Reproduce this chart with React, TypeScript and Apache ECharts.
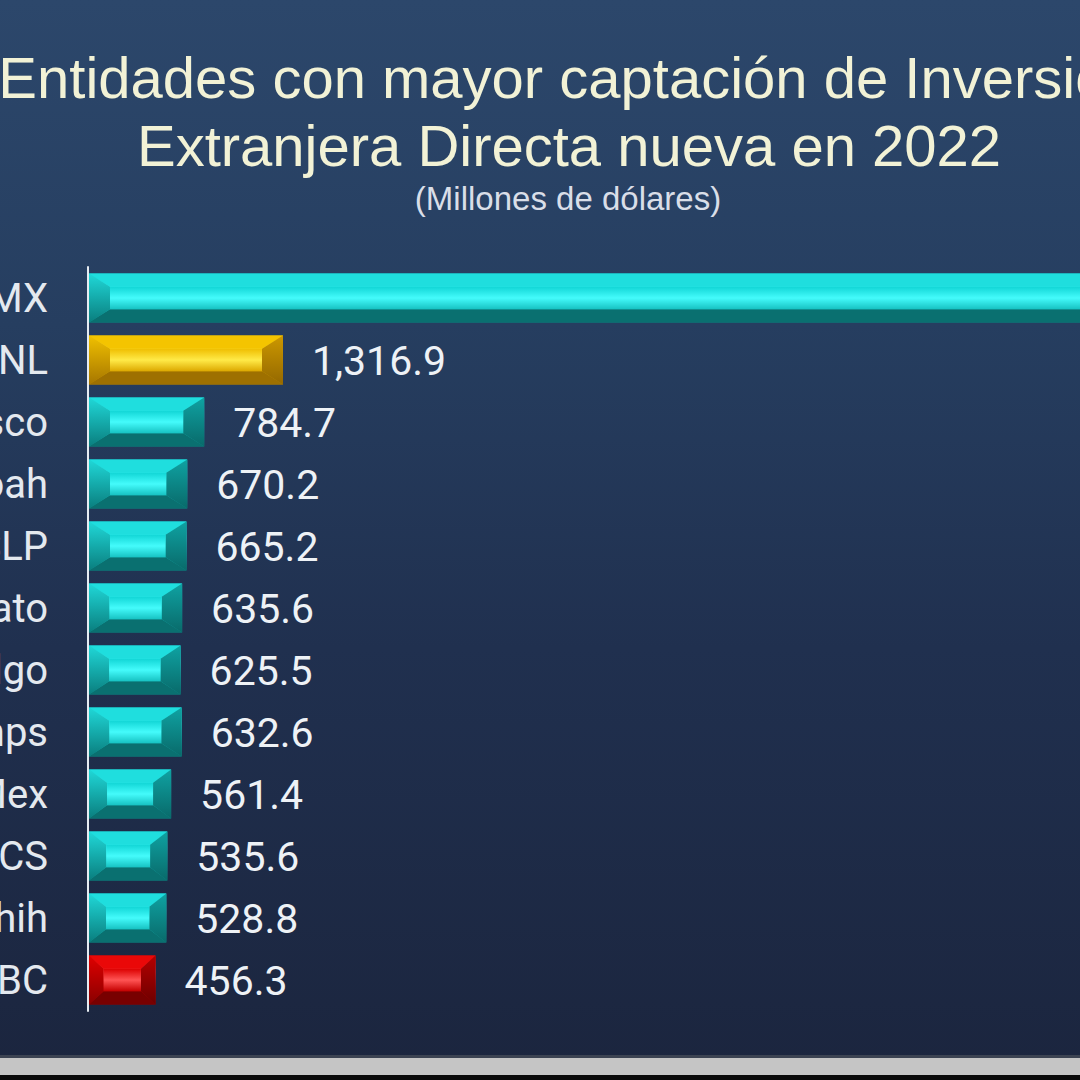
import React, { useEffect, useRef } from "react";
import * as echarts from "echarts";

// ---------- data ----------
const categories = ["CDMX", "NL", "Jalisco", "Coah", "SLP", "Guanajuato", "Hidalgo", "Tamps", "EdoMex", "BCS", "Chih", "BC"];
const values = [7500, 1316.9, 784.7, 670.2, 665.2, 635.6, 625.5, 632.6, 561.4, 535.6, 528.8, 456.3];
const titleLines = ["Entidades con mayor captación de Inversión", "Extranjera Directa nueva en 2022"];
const subtitle = "(Millones de dólares)";

// ---------- styles ----------
const highlight: Record<string, string> = { NL: "gold", BC: "red" };
const palettes: Record<string, any> = {
  cyan: {
    top: "#1fdede",
    face: ["#12d6d6", "#44fbfb", "#17c2c2", "#0c8686"],
    bottom: "#0a7070",
    left: ["#20d8d8", "#0a7e7e"],
    right: ["#0fa2a2", "#096a6a"],
  },
  gold: {
    top: "#f4c400",
    face: ["#efbe00", "#ffea48", "#dca800", "#b48200"],
    bottom: "#9e7000",
    left: ["#f0c000", "#a67600"],
    right: ["#cc9800", "#946800"],
  },
  red: {
    top: "#ea0808",
    face: ["#dc0000", "#ff5454", "#c40000", "#920000"],
    bottom: "#780000",
    left: ["#e00000", "#880000"],
    right: ["#b40000", "#6c0000"],
  },
};

const fmt = (v: number) =>
  v.toLocaleString("en-US", { minimumFractionDigits: 1, maximumFractionDigits: 1 });

const vGrad = (stops: string[]) =>
  new echarts.graphic.LinearGradient(
    0, 0, 0, 1,
    stops.map((c, i) => ({ offset: i / (stops.length - 1), color: c }))
  );

const WIDTH = 1080;

export default function App() {
  const ref = useRef<HTMLDivElement>(null);

  useEffect(() => {
    document.body.style.margin = "0";
    if (!ref.current) return;
    const chart = echarts.init(ref.current, undefined, { renderer: "svg" });

    const renderItem = (params: any, api: any) => {
      const idx = api.value(1);
      const v = api.value(0);
      const name = categories[idx];
      const pal = palettes[highlight[name] || "cyan"];
      const start = api.coord([0, idx]);
      const end = api.coord([v, idx]);
      const band = api.size([0, 1])[1];
      const h = band * 0.79;
      const x0 = start[0] + 1;
      const x1 = end[0];
      const y0 = start[1] - h / 2;
      const y1 = start[1] + h / 2;
      const w = x1 - x0;
      const t = h * 0.27;
      const b = Math.min(21, w * 0.22);
      const children: any[] = [
        { type: "rect", shape: { x: x0, y: y0, width: w, height: h }, style: { fill: vGrad(pal.face) } },
        {
          type: "polygon",
          shape: { points: [[x0, y0], [x1, y0], [x1 - b, y0 + t], [x0 + b, y0 + t]] },
          style: { fill: pal.top },
        },
        {
          type: "polygon",
          shape: { points: [[x0, y1], [x1, y1], [x1 - b, y1 - t], [x0 + b, y1 - t]] },
          style: { fill: pal.bottom },
        },
        {
          type: "polygon",
          shape: { points: [[x0, y0], [x0 + b, y0 + t], [x0 + b, y1 - t], [x0, y1]] },
          style: { fill: vGrad(pal.left) },
        },
        {
          type: "polygon",
          shape: { points: [[x1, y0], [x1 - b, y0 + t], [x1 - b, y1 - t], [x1, y1]] },
          style: { fill: vGrad(pal.right) },
        },
        {
          type: "rect",
          shape: { x: x0 + b, y: y0 + t, width: Math.max(0, w - 2 * b), height: h - 2 * t },
          style: { fill: vGrad([pal.face[0], pal.face[1], pal.face[2]]) },
        },
      ];
      // value label only when it falls inside the picture (the CDMX bar runs off the edge)
      if (x1 + 29 < WIDTH) {
        children.push({
          type: "text",
          style: {
            text: fmt(v),
            x: x1 + 29,
            y: start[1] + 1,
            fill: "#eef2f6",
            font: "41px Roboto",
            align: "left",
            verticalAlign: "middle",
          },
        });
      }
      return { type: "group", children };
    };

    chart.setOption({
      animation: false,
      backgroundColor: new echarts.graphic.LinearGradient(0, 0, 0, 1, [
        { offset: 0, color: "#2c476b" },
        { offset: 0.3, color: "#263e60" },
        { offset: 0.6, color: "#20304f" },
        { offset: 1, color: "#1b253e" },
      ]),
      grid: { left: 88, right: 0, top: 267, bottom: 69, containLabel: false, outerBoundsMode: "none" },
      xAxis: {
        type: "value",
        min: 0,
        max: 6700,
        show: false,
      },
      yAxis: {
        type: "category",
        data: categories,
        inverse: true,
        axisLine: { show: true, lineStyle: { color: "#e6ecf2", width: 2 } },
        axisTick: { show: false },
        splitLine: { show: false },
        axisLabel: {
          color: "#e4e9ef",
          fontFamily: "Roboto",
          fontSize: 40,
          margin: 40,
        },
      },
      series: [
        {
          type: "custom",
          renderItem,
          encode: { x: 0, y: 1 },
          data: values.map((v, i) => [v, i]),
          clip: false,
        },
      ],
      graphic: [
        {
          type: "text",
          x: 569,
          y: 106,
          style: {
            text: titleLines[0],
            fill: "#f2f2d6",
            font: "58px 'Liberation Sans'",
            align: "center",
            verticalAlign: "bottom",
          },
        },
        {
          type: "text",
          x: 569,
          y: 174,
          style: {
            text: titleLines[1],
            fill: "#f2f2d6",
            font: "58px 'Liberation Sans'",
            align: "center",
            verticalAlign: "bottom",
          },
        },
        {
          type: "text",
          x: 568,
          y: 198,
          style: {
            text: subtitle,
            fill: "#d9dee8",
            font: "33px 'Liberation Sans'",
            align: "center",
            verticalAlign: "middle",
          },
        },
        { type: "rect", shape: { x: 0, y: 1055, width: 1080, height: 3 }, style: { fill: "#3c4352" } },
        { type: "rect", shape: { x: 0, y: 1058, width: 1080, height: 17 }, style: { fill: "#c5c5c5" } },
        { type: "rect", shape: { x: 0, y: 1075, width: 1080, height: 5 }, style: { fill: "#0a0a0a" } },
      ],
    });

    return () => chart.dispose();
  }, []);

  return <div ref={ref} style={{ width: 1080, height: 1080 }} />;
}
